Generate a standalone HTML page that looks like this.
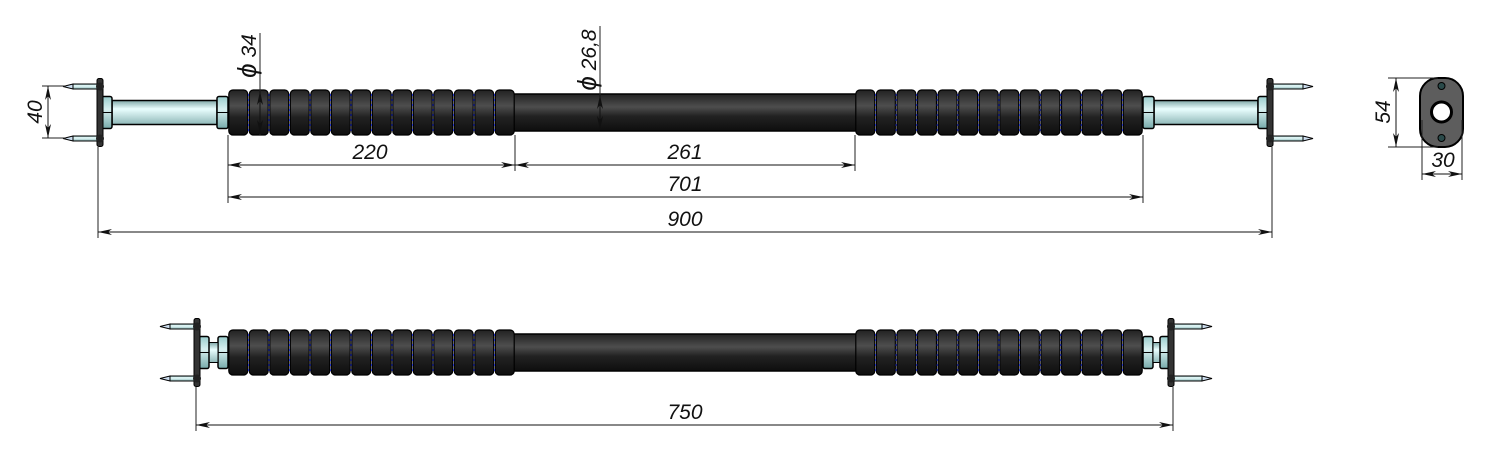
<!DOCTYPE html>
<html><head><meta charset="utf-8"><style>
html,body{margin:0;padding:0;background:#fff;width:1500px;height:461px;overflow:hidden}
svg{display:block}
text{font-family:"Liberation Sans",sans-serif;font-style:italic;font-size:21px;fill:#111}
</style></head><body>
<svg id="s" width="1500" height="461" viewBox="0 0 1500 461" xmlns="http://www.w3.org/2000/svg">
<defs>
<linearGradient id="bead" x1="0" y1="0" x2="0" y2="1">
<stop offset="0" stop-color="#222"/><stop offset="0.35" stop-color="#4e4e4e"/><stop offset="0.6" stop-color="#222"/><stop offset="1" stop-color="#0e0e0e"/></linearGradient>
<linearGradient id="steel" x1="0" y1="0" x2="0" y2="1">
<stop offset="0" stop-color="#7fa8a8"/><stop offset="0.35" stop-color="#eaffff"/><stop offset="1" stop-color="#8fb8b8"/></linearGradient>
<linearGradient id="nut" x1="0" y1="0" x2="0" y2="1">
<stop offset="0" stop-color="#9cc"/><stop offset="0.4" stop-color="#d8f0f0"/><stop offset="1" stop-color="#7aa"/></linearGradient>
<marker id="a" viewBox="0 0 14 6" refX="14" refY="3" markerWidth="14" markerHeight="6" orient="auto-start-reverse" markerUnits="userSpaceOnUse"><path d="M0,0 L14,3 L0,6 L4,3 z" fill="#111"/></marker>
</defs>
<g id="g"></g>
</svg>
<script>
const g=document.getElementById('g');let h='';
function heater(yc,top){
 const bt=yc-22.5,bb=yc+22.5;
 h+=`<rect x="512" y="${yc-18.5}" width="346" height="37" fill="url(#bead)" stroke="#000" stroke-width="1.5"/>`;
 for(const [x0,x1] of [[228,515],[855,1143]]){
  const n=14,w=(x1-x0)/n;
  for(let i=0;i<n;i++){const x=x0+i*w;
   h+=`<rect x="${x+0.8}" y="${bt}" width="${w-1.6}" height="45" rx="4" fill="url(#bead)" stroke="#000" stroke-width="1.2"/>`;
   if(i>0)h+=`<line x1="${x}" y1="${bt+4}" x2="${x}" y2="${bb-4}" stroke="#2233cc" stroke-width="1" stroke-dasharray="2,3"/>`;}
 }
 if(top){
  h+=`<rect x="112" y="${yc-12}" width="105" height="24" fill="url(#steel)" stroke="#000" stroke-width="1.5"/>`;
  h+=`<rect x="1154" y="${yc-12}" width="104" height="24" fill="url(#steel)" stroke="#000" stroke-width="1.5"/>`;
  nut(217,yc,11);nut(1143,yc,11);nut(101,yc,11);nut(1258,yc,10);
  flange(100,yc,-1,63);flange(1270,yc,1,1313);
 }else{
  nut(218,yc,10);nut(1143,yc,10);
  h+=`<rect x="209" y="${yc-10}" width="9" height="20" fill="url(#steel)" stroke="#000"/>`;
  h+=`<rect x="1153" y="${yc-10}" width="9" height="20" fill="url(#steel)" stroke="#000"/>`;
  nut(199,yc,10);nut(1160,yc,10);
  flange(197,yc,-1,160);flange(1171,yc,1,1212);
 }
}
function nut(x,yc,w){h+=`<rect x="${x}" y="${yc-16}" width="${w}" height="32" rx="2" fill="url(#nut)" stroke="#000" stroke-width="1.5"/><line x1="${x}" y1="${yc}" x2="${x+w}" y2="${yc}" stroke="#000"/>`;}
function flange(x,yc,dir,tip){
 h+=`<rect x="${x-3}" y="${yc-34}" width="6" height="68" rx="2" fill="#333" stroke="#000"/>`;
 for(const py of [yc-26,yc+26]){
  const e=tip-dir*10;
  h+=`<rect x="${Math.min(x,e)}" y="${py-2.5}" width="${Math.abs(e-x)}" height="5" fill="url(#steel)" stroke="#000" stroke-width="1"/>`;
  h+=`<path d="M${e},${py-2.5} L${tip},${py} L${e},${py+2.5} z" fill="#cde" stroke="#000"/>`;
  h+=`<circle cx="${x}" cy="${py}" r="4" fill="#222"/>`;
 }
}
function dimH(x1,x2,y,yext0,t,tx){
 h+=`<line x1="${x1}" y1="${y}" x2="${x2}" y2="${y}" stroke="#111" stroke-width="1" marker-start="url(#a)" marker-end="url(#a)"/>`;
 if(t)h+=`<text x="${tx}" y="${y-6}" text-anchor="middle">${t}</text>`;
}
const L='stroke="#222" stroke-width="1"';
heater(112.5,true);
heater(352.5,false);
h+=`<line x1="98" y1="147" x2="98" y2="238" ${L}/><line x1="1272" y1="147" x2="1272" y2="238" ${L}/>`;
h+=`<line x1="228" y1="135" x2="228" y2="203" ${L}/><line x1="1143" y1="135" x2="1143" y2="203" ${L}/>`;
h+=`<line x1="515" y1="135" x2="515" y2="171" ${L}/><line x1="855" y1="135" x2="855" y2="171" ${L}/>`;
dimH(228,515,165,0,'220',370);dimH(515,855,165,0,'261',685);
dimH(228,1143,197,0,'701',685);dimH(98,1272,232,0,'900',685);
h+=`<line x1="42" y1="86" x2="66" y2="86" ${L}/><line x1="42" y1="138" x2="66" y2="138" ${L}/>`;
h+=`<line x1="48" y1="86" x2="48" y2="138" stroke="#111" marker-start="url(#a)" marker-end="url(#a)"/>`;
h+=`<text transform="translate(42,112) rotate(-90)" text-anchor="middle">40</text>`;
h+=`<line x1="260" y1="33" x2="260" y2="135" ${L}/><line x1="260" y1="91" x2="260" y2="134" stroke="#111" marker-start="url(#a)" marker-end="url(#a)"/>`;
h+=`<text transform="translate(256,56) rotate(-90)" text-anchor="middle"><tspan font-size="26">ϕ</tspan> 34</text>`;
h+=`<line x1="600" y1="26" x2="600" y2="130" ${L}/><line x1="600" y1="95" x2="600" y2="130" stroke="#111" marker-start="url(#a)" marker-end="url(#a)"/>`;
h+=`<text transform="translate(596,60) rotate(-90)" text-anchor="middle"><tspan font-size="26">ϕ</tspan> 26,8</text>`;
h+=`<rect x="1420" y="78" width="43" height="69" rx="18" fill="#5d5d5d" stroke="#000" stroke-width="2"/>`;
h+=`<circle cx="1441.5" cy="112" r="10" fill="#fff" stroke="#000" stroke-width="3"/>`;
h+=`<circle cx="1441.5" cy="86" r="3.5" fill="#2a4a4a" stroke="#000"/><circle cx="1441.5" cy="138" r="3.5" fill="#2a4a4a" stroke="#000"/>`;
h+=`<line x1="1388" y1="78" x2="1438" y2="78" ${L}/><line x1="1388" y1="147" x2="1438" y2="147" ${L}/>`;
h+=`<line x1="1396" y1="78" x2="1396" y2="147" stroke="#111" marker-start="url(#a)" marker-end="url(#a)"/>`;
h+=`<text transform="translate(1390,112) rotate(-90)" text-anchor="middle">54</text>`;
h+=`<line x1="1422" y1="120" x2="1422" y2="180" ${L}/><line x1="1462" y1="120" x2="1462" y2="180" ${L}/>`;
h+=`<line x1="1422" y1="174" x2="1462" y2="174" stroke="#111" marker-start="url(#a)" marker-end="url(#a)"/>`;
h+=`<text x="1443" y="167" text-anchor="middle">30</text>`;
h+=`<line x1="196" y1="387" x2="196" y2="431" ${L}/><line x1="1173" y1="387" x2="1173" y2="431" ${L}/>`;
dimH(196,1173,425,0,'750',685);
g.innerHTML=h;
</script>
</body></html>
